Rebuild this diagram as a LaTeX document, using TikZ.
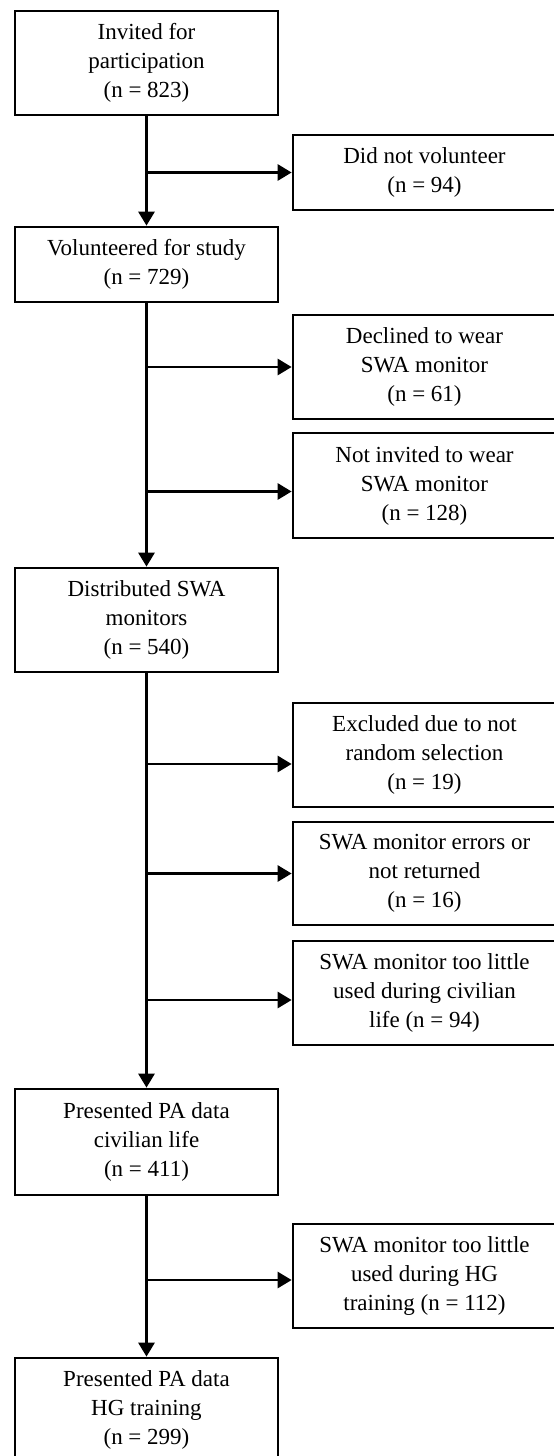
\documentclass[tikz,border=0pt]{standalone}
\usepackage{fontspec}
\setmainfont{Liberation Serif}
\usetikzlibrary{arrows.meta}
\begin{document}
\begin{tikzpicture}[x=1pt,y=-1pt,
  box/.style={draw=black, line width=2.7pt, minimum width=263pt, inner sep=0pt, align=center,
    font=\fontsize{23}{29}\selectfont},
  arr/.style={line width=2.7pt, -{Triangle[length=14pt,width=16pt]}}]
\useasboundingbox (0,0) rectangle (554,1456);
% main column
\node[box, minimum height=104pt] (b1) at (146.5,63) {Invited for\\participation\\(n = 823)};
\node[box, minimum height=75pt] (b2) at (146.5,264.5) {Volunteered for study\\(n = 729)};
\node[box, minimum height=104pt] (b3) at (146.5,620) {Distributed SWA\\monitors\\(n = 540)};
\node[box, minimum height=106pt] (b4) at (146.5,1142) {Presented PA data\\civilian life\\(n = 411)};
\node[box, minimum height=104pt] (b5) at (146.5,1410) {Presented PA data\\HG training\\(n = 299)};
% side boxes
\node[box, minimum height=75pt] (s1) at (424.5,172.5) {Did not volunteer\\(n = 94)};
\node[box, minimum height=104pt] (s2) at (424.5,367) {Declined to wear\\SWA monitor\\(n = 61)};
\node[box, minimum height=105pt] (s3) at (424.5,485.5) {Not invited to wear\\SWA monitor\\(n = 128)};
\node[box, minimum height=104pt] (s4) at (424.5,755) {Excluded due to not\\random selection\\(n = 19)};
\node[box, minimum height=103pt] (s5) at (424.5,873.5) {SWA monitor errors or\\not returned\\(n = 16)};
\node[box, minimum height=104pt] (s6) at (424.5,993) {SWA monitor too little\\used during civilian\\life (n = 94)};
\node[box, minimum height=104pt] (s7) at (424.5,1276) {SWA monitor too little\\used during HG\\training (n = 112)};
% trunk arrows
\draw[arr] (b1.south) -- (b2.north);
\draw[arr] (b2.south) -- (b3.north);
\draw[arr] (b3.south) -- (b4.north);
\draw[arr] (b4.south) -- (b5.north);
% branch arrows
\coordinate (c1) at (s1.west);
\coordinate (c2) at (s2.west);
\coordinate (c3) at ([yshift=-6pt]s3.west);
\coordinate (c4) at ([yshift=-9pt]s4.west);
\coordinate (c5) at (s5.west);
\coordinate (c6) at ([yshift=-7pt]s6.west);
\coordinate (c7) at ([yshift=-4pt]s7.west);
\draw[arr] (b1.south |- c1) -- (c1);
\draw[arr] (b2.south |- c2) -- (c2);
\draw[arr] (b2.south |- c3) -- (c3);
\draw[arr] (b3.south |- c4) -- (c4);
\draw[arr] (b3.south |- c5) -- (c5);
\draw[arr] (b3.south |- c6) -- (c6);
\draw[arr] (b4.south |- c7) -- (c7);
\end{tikzpicture}
\end{document}
